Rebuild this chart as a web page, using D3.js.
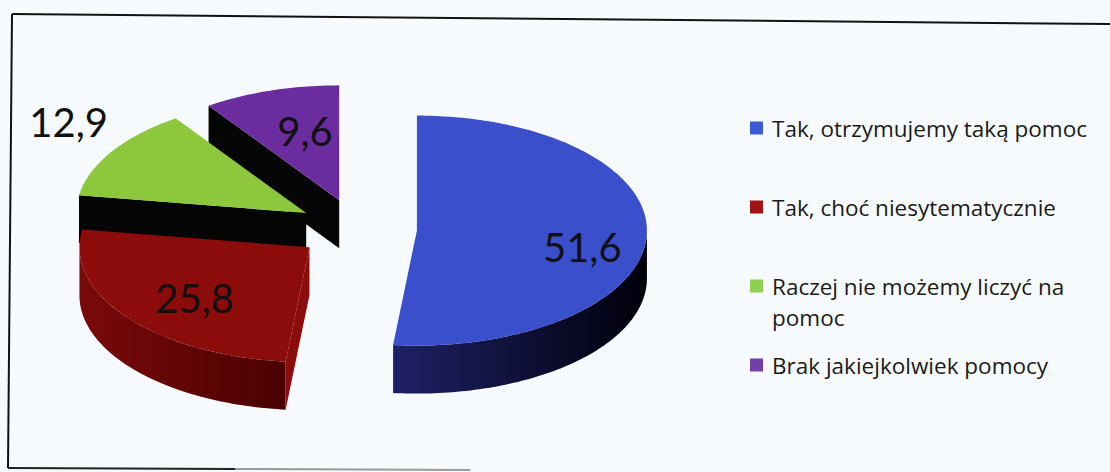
<!DOCTYPE html>
<html><head><meta charset="utf-8">
<script src="https://cdn.jsdelivr.net/npm/d3@7"></script>
<style>html,body{margin:0;padding:0;background:#f7fafc;} svg{display:block}</style>
</head><body>
<svg id="chart" width="1110" height="472"></svg>
<script>
// ---- data ----
const categories = ["Tak, otrzymujemy taką pomoc", "Tak, choć niesytematycznie", "Raczej nie możemy liczyć na pomoc", "Brak jakiejkolwiek pomocy"];
const values = [51.6, 25.8, 12.9, 9.6];
const valueLabels = ["51,6", "25,8", "12,9", "9,6"];

// ---- styles ----
const topColors = ["#3a4fcc", "#8c0b0b", "#8dc73c", "#6a2c9e"];
const legendColors = ["#3d5ad6", "#a01414", "#8fd054", "#7040a6"];
const wallColors = [["#1e2066", "#00000a"], ["#7a0909", "#4a0202"], ["#3c5a10", "#1c2a05"], ["#2c1050", "#120520"]];
const labelRadius = [0.72, 0.63, 1.22, 0.5];
const labelNudge = [12, 7, -16, -14];

const W = 1110, H = 472;
const cx = 357, cy = 229, rx = 230, ry = 115, depth = 48, explode = 60;

const svg = d3.select("#chart");
const defs = svg.append("defs");

// frame (scanned box)
svg.append("path").attr("d", "M12,14 L1110,24").attr("stroke", "#111").attr("stroke-width", 2).attr("fill", "none");
svg.append("path").attr("d", "M12,14 L8,468").attr("stroke", "#111").attr("stroke-width", 2).attr("fill", "none");
svg.append("path").attr("d", "M8,468 L235,469").attr("stroke", "#222").attr("stroke-width", 2).attr("fill", "none");
svg.append("path").attr("d", "M235,469 L470,470").attr("stroke", "#999").attr("stroke-width", 2).attr("fill", "none");

const pie = d3.pie().sort(null).value(d => d).startAngle(0).endAngle(2 * Math.PI);
const arcs = pie(values);

function P(V, a, z) { return [V[0] + rx * Math.sin(a), V[1] - ry * Math.cos(a) + z]; }
function samples(V, a, b, z) {
  const n = Math.max(2, Math.ceil(Math.abs(b - a) / 0.02));
  return d3.range(n + 1).map(i => P(V, a + (b - a) * i / n, z));
}
const line = d3.line();

const slices = arcs.map((d, i) => {
  const mid = (d.startAngle + d.endAngle) / 2;
  const V = [cx + explode * Math.sin(mid), cy - explode * (ry / rx) * Math.cos(mid)];
  return { d, i, mid, V };
}).sort((a, b) => a.V[1] - b.V[1]);

const g = svg.append("g");
slices.forEach(s => {
  const { d, i, V } = s;
  const a0 = d.startAngle, a1 = d.endAngle;
  const sg = g.append("g");
  // outer wall (front part)
  const ws = Math.max(a0, Math.PI / 2), we = Math.min(a1, 3 * Math.PI / 2);
  if (we > ws) {
    const topPts = samples(V, ws, we, 0);
    const botPts = samples(V, we, ws, depth);
    const pts = topPts.concat(botPts);
    const xs = pts.map(p => p[0]);
    const gid = "wall" + i;
    const lg = defs.append("linearGradient").attr("id", gid).attr("gradientUnits", "userSpaceOnUse")
      .attr("x1", d3.min(xs)).attr("x2", d3.max(xs)).attr("y1", 0).attr("y2", 0);
    lg.append("stop").attr("offset", "0%").attr("stop-color", wallColors[i][0]);
    lg.append("stop").attr("offset", "100%").attr("stop-color", wallColors[i][1]);
    sg.append("path").attr("d", line(pts) + "Z").attr("fill", "url(#" + gid + ")");
  }
  // radial faces
  const faces = [];
  if (Math.sin(a0) < -0.01) faces.push({ a: a0, ny: -Math.sin(a0) });
  if (Math.sin(a1) > 0.01) faces.push({ a: a1, ny: Math.sin(a1) });
  faces.forEach(f => {
    const p0 = P(V, f.a, 0), p1 = P(V, f.a, depth);
    const k = Math.min(1, Math.max(0, (f.ny - 0.15) * 3));
    sg.append("path").attr("d", line([V, p0, p1, [V[0], V[1] + depth]]) + "Z")
      .attr("fill", d3.interpolateRgb(topColors[i], "#050505")(k));
  });
  // top face
  const topPath = [V].concat(samples(V, a0, a1, 0));
  sg.append("path").attr("d", line(topPath) + "Z").attr("fill", topColors[i]);
});

// value labels
slices.forEach(s => {
  const { i, mid, V } = s;
  const f = labelRadius[i];
  const x = V[0] + f * rx * Math.sin(mid);
  const y = V[1] - f * ry * Math.cos(mid) + labelNudge[i];
  svg.append("text").attr("x", x).attr("y", y)
    .attr("text-anchor", "middle").attr("dominant-baseline", "central")
    .attr("font-family", "Lato, 'Open Sans', sans-serif").attr("font-size", 40)
    .attr("fill", "#111").text(valueLabels[i]);
});

// legend
const legend = svg.append("g").attr("font-family", "'Open Sans', Lato, sans-serif").attr("font-size", 22.5).attr("fill", "#1a1a1a");
const ly = d3.scaleLinear().domain([0, 1]).range([128, 207]);
const maxW = 340;
const lineGap = 31;
categories.forEach((c, i) => {
  const y = ly(i);
  legend.append("rect").attr("x", 750).attr("y", y - 6.5).attr("width", 13).attr("height", 13).attr("fill", legendColors[i]);
  const t = legend.append("text").attr("x", 772).attr("y", y).attr("dominant-baseline", "central");
  const words = c.split(" ");
  let lineWords = [], lineNo = 0;
  let ts = t.append("tspan").attr("x", 772).attr("y", y);
  words.forEach(w => {
    lineWords.push(w);
    ts.text(lineWords.join(" "));
    if (ts.node().getComputedTextLength() > maxW && lineWords.length > 1) {
      lineWords.pop();
      ts.text(lineWords.join(" "));
      lineWords = [w];
      lineNo++;
      ts = t.append("tspan").attr("x", 772).attr("y", y + lineNo * lineGap).text(w);
    }
  });
});
</script>
</body></html>
